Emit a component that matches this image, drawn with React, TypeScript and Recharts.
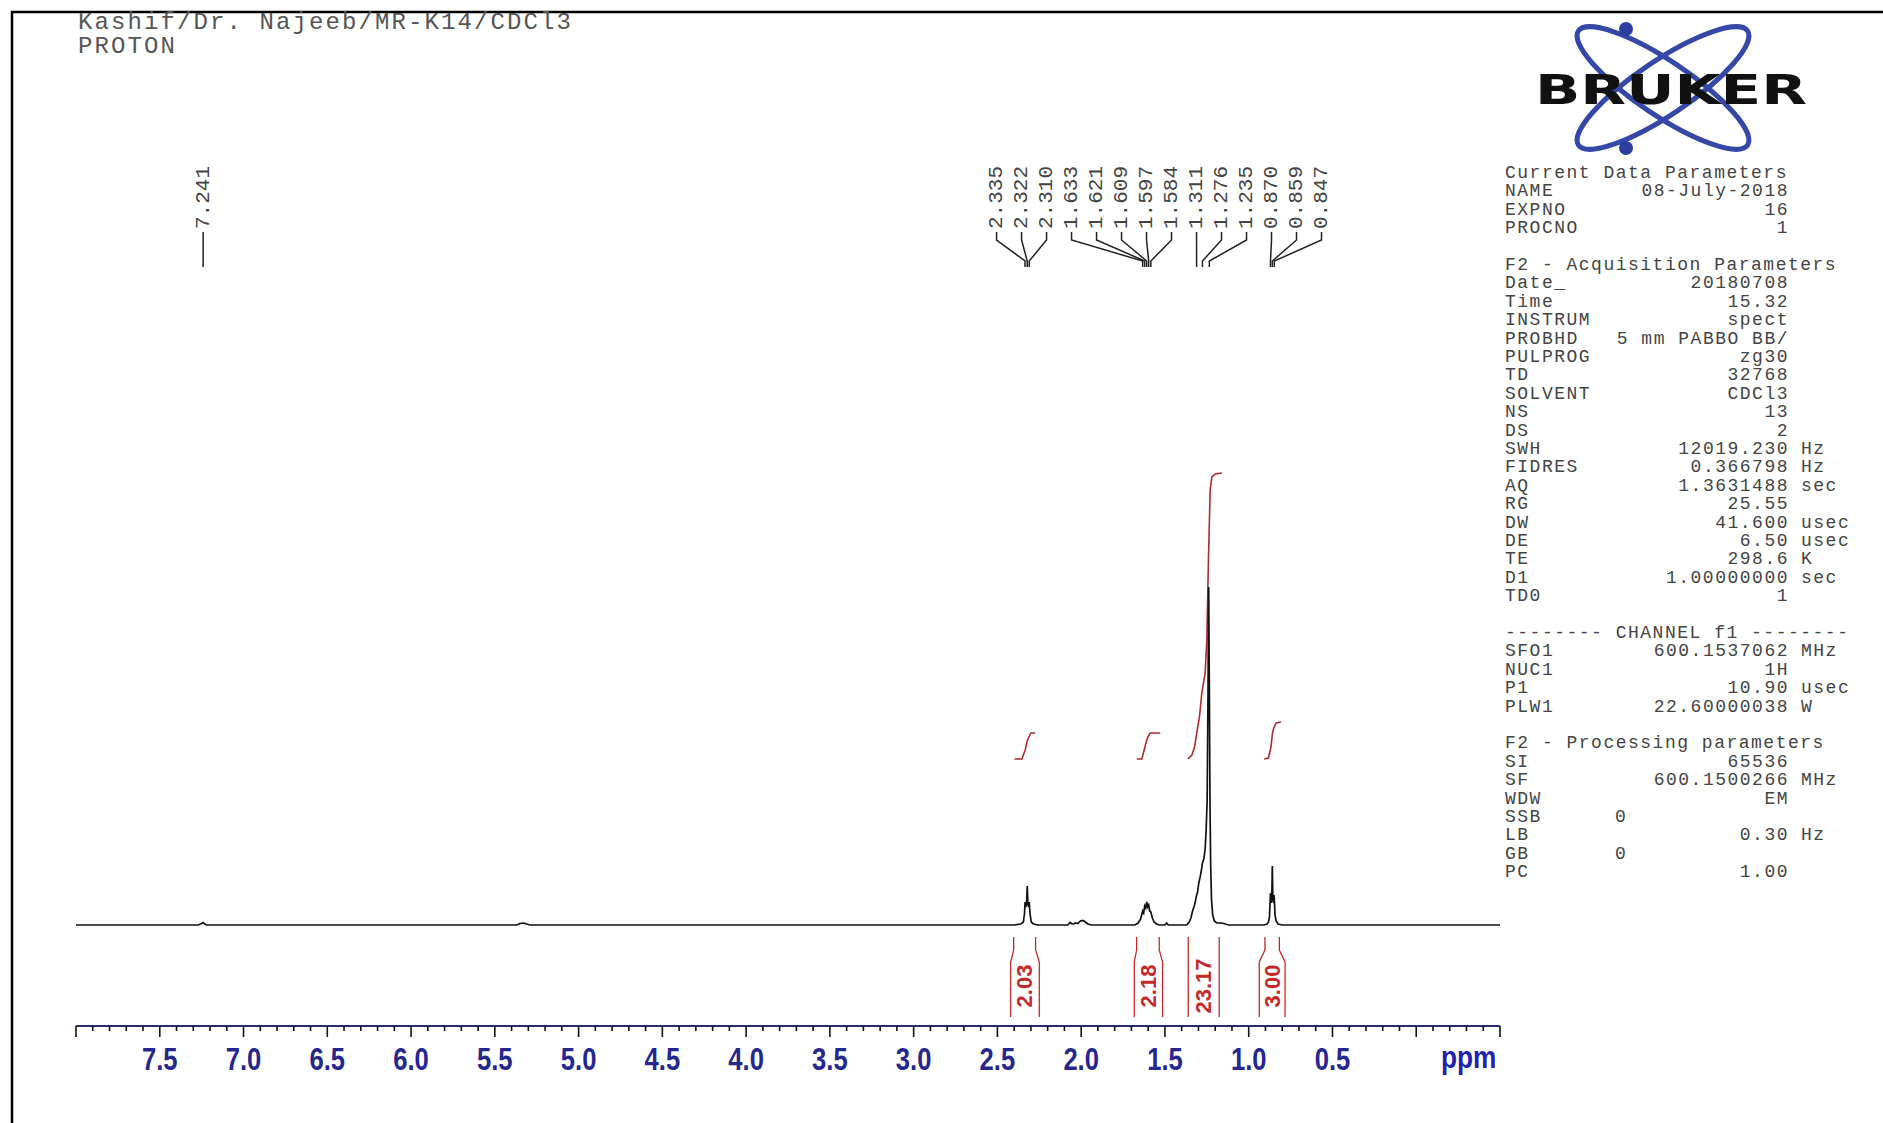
import React from "react";
import { ComposedChart, Line, Scatter, XAxis, YAxis } from "recharts";

const W = 1883;
const H = 1123;

// ── spectrum (ppm, intensity above baseline) ──────────────────────────────
const SPECTRUM: [number, number][] = [
    [8.0, 0], [7.27, 0], [7.25, 1.5], [7.241, 2.5], [7.232, 1], [7.22, 0],
    [5.37, 0], [5.35, 1.5], [5.33, 2], [5.31, 1], [5.29, 0],
    [2.4, 0], [2.36, 1], [2.345, 3], [2.338, 12], [2.335, 23], [2.331, 18], [2.326, 21], [2.322, 39],
    [2.318, 21], [2.314, 18], [2.31, 23], [2.305, 11], [2.298, 3], [2.285, 1], [2.26, 0],
    [2.08, 0], [2.066, 2.5], [2.055, 1], [2.045, 1], [2.035, 2], [2.02, 1.5], [2.005, 4], [1.99, 4.5],
    [1.975, 3], [1.96, 1], [1.94, 0],
    [1.68, 0], [1.66, 2], [1.645, 6], [1.633, 14], [1.627, 12], [1.621, 19], [1.615, 17], [1.609, 23],
    [1.603, 18], [1.597, 20], [1.591, 14], [1.584, 13], [1.575, 7], [1.565, 3], [1.55, 1], [1.535, 0],
    [1.5, 0], [1.49, 2], [1.48, 0],
    [1.37, 0], [1.355, 3], [1.345, 7], [1.335, 14], [1.325, 19], [1.318, 24], [1.311, 30], [1.305, 33],
    [1.298, 42], [1.29, 48], [1.282, 55], [1.276, 62], [1.268, 66], [1.26, 76], [1.254, 95], [1.248, 125],
    [1.243, 230], [1.239, 338], [1.235, 240], [1.231, 120], [1.227, 60], [1.222, 25], [1.215, 10],
    [1.205, 4], [1.19, 2], [1.16, 2], [1.14, 1], [1.12, 0],
    [0.91, 0], [0.89, 1], [0.882, 3], [0.876, 8], [0.872, 24], [0.87, 32], [0.866, 22], [0.862, 28],
    [0.859, 59], [0.856, 28], [0.852, 22], [0.849, 30], [0.847, 26], [0.843, 10], [0.836, 4], [0.825, 1],
    [0.8, 0], [-0.5, 0],
];

// ── integrals ─────────────────────────────────────────────────────────────
const INT_1: [number, number][] = [[2.398, 166], [2.354, 166], [2.334, 175], [2.324, 183], [2.315, 187], [2.3, 192], [2.275, 192]];
const INT_2: [number, number][] = [[1.668, 166], [1.638, 166], [1.624, 175], [1.612, 183], [1.602, 188], [1.588, 192], [1.528, 192]];
const INT_3: [number, number][] = [
    [1.363, 166], [1.339, 170], [1.323, 178], [1.31, 192], [1.294, 208], [1.28, 232], [1.26, 252],
    [1.25, 285], [1.24, 368], [1.23, 435], [1.22, 448], [1.2, 451], [1.16, 452],
];
const INT_4: [number, number][] = [[0.907, 166], [0.882, 167], [0.867, 178], [0.858, 192], [0.848, 198], [0.836, 202], [0.808, 203]];
const INTEGRAL_CURVES = [INT_1, INT_2, INT_3, INT_4];

const INTEGRAL_VALUES = ["2.03", "2.18", "23.17", "3.00"];
const INTEGRAL_LABEL_PPM = [2.336, 1.598, 1.271, 0.86];
// bracket edges: [left, right] at the curve, [left, right] around the label
const BRACKET_TOP: [number, number][] = [[2.403, 2.272], [1.669, 1.534], [1.361, 1.176], [0.903, 0.817]];
const BRACKET_LOW: [number, number][] = [[2.421, 2.25], [1.683, 1.514], [1.361, 1.176], [0.937, 0.783]];

// ── peak picking ──────────────────────────────────────────────────────────
const PEAKS = ["2.335", "2.322", "2.310", "1.633", "1.621", "1.609", "1.597", "1.584", "1.311", "1.276", "1.235", "0.870", "0.859", "0.847"];
const SOLVENT_PEAK = "7.241";
const LABEL_FIRST_PPM = 2.505;
const LABEL_STEP_PPM = 0.1492;

// ── axis ──────────────────────────────────────────────────────────────────
const TICKS: number[] = [];
for (let k = 80; k >= -5; k--) TICKS.push(k / 10);

// ── parameter table ───────────────────────────────────────────────────────
type Row = string | [string, string, string?, boolean?] | null;
const TABLE: Row[] = [
    "Current Data Parameters",
    ["NAME", "08-July-2018"],
    ["EXPNO", "16"],
    ["PROCNO", "1"],
    null,
    "F2 - Acquisition Parameters",
    ["Date_", "20180708"],
    ["Time", "15.32"],
    ["INSTRUM", "spect"],
    ["PROBHD", "5 mm PABBO BB/"],
    ["PULPROG", "zg30"],
    ["TD", "32768"],
    ["SOLVENT", "CDCl3"],
    ["NS", "13"],
    ["DS", "2"],
    ["SWH", "12019.230", "Hz"],
    ["FIDRES", "0.366798", "Hz"],
    ["AQ", "1.3631488", "sec"],
    ["RG", "25.55"],
    ["DW", "41.600", "usec"],
    ["DE", "6.50", "usec"],
    ["TE", "298.6", "K"],
    ["D1", "1.00000000", "sec"],
    ["TD0", "1"],
    null,
    "-------- CHANNEL f1 --------",
    ["SFO1", "600.1537062", "MHz"],
    ["NUC1", "1H"],
    ["P1", "10.90", "usec"],
    ["PLW1", "22.60000038", "W"],
    null,
    "F2 - Processing parameters",
    ["SI", "65536"],
    ["SF", "600.1500266", "MHz"],
    ["WDW", "EM"],
    ["SSB", "0", "", true],
    ["LB", "0.30", "Hz"],
    ["GB", "0", "", true],
    ["PC", "1.00"],
];

const MONO = "'Liberation Mono', 'DejaVu Sans Mono', monospace";
const SANS = "'Liberation Sans', Arial, sans-serif";
const RED = "#c42a2a";

// y levels of the peak-label fans (same units as intensity)
const LBL_BASE = 696;
const STUB_TOP = 693;
const STUB_BOT = 685;
const FAN_BOT = 664;
const TIP_BOT = 658;

function PpmTick({ x, y, payload }: any) {
    const v = payload.value as number;
    const major = Math.abs(v * 2 - Math.round(v * 2)) < 1e-6;
    const show = major && v > 0.25 && v < 7.75;
    return (
        <g>
            <line x1={x} x2={x} y1={y} y2={y + (major ? 11 : 5)} stroke="#111" strokeWidth={1.6} />
            {show && (
                <text transform={`translate(${x} ${y + 44}) scale(0.8 1)`} textAnchor="middle" fontFamily={SANS}
                    fontWeight="bold" fontSize={32} fill="#26268f">
                    {v.toFixed(1)}
                </text>
            )}
        </g>
    );
}

function RotLabel({ cx, cy, payload }: any) {
    return (
        <text x={cx} y={cy} transform={`rotate(-90 ${cx} ${cy})`} dominantBaseline="central" fontFamily={MONO}
            fontSize={21} fill="#444">
            {payload.text}
        </text>
    );
}

function IntLabel({ cx, cy, payload }: any) {
    return (
        <text x={cx} y={cy} transform={`rotate(-90 ${cx} ${cy})`} textAnchor="middle" dominantBaseline="central"
            fontFamily={SANS} fontWeight="bold" fontSize={22} fill={RED}>
            {payload.text}
        </text>
    );
}

function Overlay() {
    const rowY = (i: number) => 172 + i * 18.4 + 6;
    return (
        <svg width={W} height={H} style={{ position: "absolute", left: 0, top: 0, pointerEvents: "none" }}>
            {/* frame */}
            <line x1={11} y1={12} x2={W} y2={12} stroke="#000" strokeWidth={2.5} />
            <line x1={12} y1={11} x2={12} y2={H} stroke="#000" strokeWidth={2.5} />

            {/* title */}
            <text x={78} y={29} fontFamily={MONO} fontSize={24} letterSpacing={2.1} fill="#555">
                Kashif/Dr. Najeeb/MR-K14/CDCl3
            </text>
            <text x={78} y={53} fontFamily={MONO} fontSize={24} letterSpacing={2.1} fill="#555">
                PROTON
            </text>

            {/* logo */}
            <g fill="none" stroke="#3548a8" strokeWidth={5}>
                <ellipse cx={1663} cy={88} rx={102} ry={27} transform="rotate(34 1663 88)" />
                <ellipse cx={1663} cy={88} rx={102} ry={27} transform="rotate(-34 1663 88)" />
            </g>
            <circle cx={1626} cy={29} r={7} fill="#2c3fa0" />
            <circle cx={1626} cy={148} r={7} fill="#2c3fa0" />
            <text x={1535} y={104} fontFamily="'DejaVu Sans', sans-serif" fontWeight="900" fontSize={41}
                textLength={272} lengthAdjust="spacingAndGlyphs" fill="#111">
                BRUKER
            </text>

            {/* parameters */}
            <g fontFamily={MONO} fontSize={18} letterSpacing={1.5} fill="#444">
                {TABLE.map((r, i) => {
                    if (r === null) return null;
                    if (typeof r === "string")
                        return <text key={i} x={1505} y={rowY(i)}>{r}</text>;
                    const [k, v, u, mid] = r;
                    return (
                        <g key={i}>
                            <text x={1505} y={rowY(i)}>{k}</text>
                            {mid ? (
                                <text x={1615} y={rowY(i)}>{v}</text>
                            ) : (
                                <text x={1789} y={rowY(i)} textAnchor="end">{v}</text>
                            )}
                            {u && <text x={1801} y={rowY(i)}>{u}</text>}
                        </g>
                    );
                })}
            </g>

            {/* axis unit */}
            <text transform="translate(1441 1068) scale(0.82 1)" fontFamily={SANS} fontWeight="bold" fontSize={32}
                fill="#2222b0">
                ppm
            </text>
        </svg>
    );
}

export default function App() {
    const spectrum = SPECTRUM.map(([ppm, y]) => ({ ppm, y }));

    const labels = PEAKS.map((t, i) => ({ ppm: LABEL_FIRST_PPM - i * LABEL_STEP_PPM, y: LBL_BASE, text: t }));
    labels.push({ ppm: parseFloat(SOLVENT_PEAK), y: LBL_BASE, text: SOLVENT_PEAK });

    const fans = PEAKS.map((t, i) => {
        const lp = LABEL_FIRST_PPM - i * LABEL_STEP_PPM;
        const pp = parseFloat(t);
        return [
            { ppm: lp, y: STUB_TOP },
            { ppm: lp, y: STUB_BOT },
            { ppm: pp, y: FAN_BOT },
            { ppm: pp, y: TIP_BOT },
        ];
    });
    fans.push([
        { ppm: parseFloat(SOLVENT_PEAK), y: STUB_TOP },
        { ppm: parseFloat(SOLVENT_PEAK), y: TIP_BOT },
    ]);

    const brackets: { ppm: number; y: number }[][] = [];
    BRACKET_TOP.forEach((top, i) => {
        const low = BRACKET_LOW[i];
        [0, 1].forEach((s) => {
            brackets.push([
                { ppm: top[s], y: -12 },
                { ppm: top[s], y: -25 },
                { ppm: low[s], y: -37 },
                { ppm: low[s], y: -92 },
            ]);
        });
    });

    const intLabels = INTEGRAL_VALUES.map((t, i) => ({ ppm: INTEGRAL_LABEL_PPM[i], y: -61, text: t }));

    return (
        <div style={{ position: "absolute", left: 0, top: 0, width: W, height: H, background: "#fff" }}>
            <ComposedChart width={W} height={H} margin={{ top: 26, right: 383, bottom: 37, left: 76 }}>
                <XAxis
                    type="number"
                    dataKey="ppm"
                    domain={[-0.5, 8]}
                    reversed
                    allowDataOverflow
                    ticks={TICKS}
                    interval={0}
                    tick={<PpmTick />}
                    tickLine={false}
                    tickSize={0}
                    tickMargin={0}
                    axisLine={{ stroke: "#2b2b66", strokeWidth: 2 }}
                    height={60}
                />
                <YAxis type="number" hide domain={[-101, 899]} allowDataOverflow />

                {INTEGRAL_CURVES.map((c, i) => (
                    <Line key={"int" + i} data={c.map(([ppm, y]) => ({ ppm, y }))} dataKey="y" stroke="#b02a2a"
                        strokeWidth={1.6} dot={false} activeDot={false} isAnimationActive={false} />
                ))}
                {brackets.map((b, i) => (
                    <Line key={"br" + i} data={b} dataKey="y" stroke={RED} strokeWidth={1.3} dot={false}
                        activeDot={false} isAnimationActive={false} />
                ))}
                {fans.map((f, i) => (
                    <Line key={"fan" + i} data={f} dataKey="y" stroke="#222" strokeWidth={1.5} dot={false}
                        activeDot={false} isAnimationActive={false} />
                ))}

                <Line data={spectrum} dataKey="y" stroke="#111" strokeWidth={1.7} dot={false} activeDot={false}
                    isAnimationActive={false} />

                <Scatter data={labels} dataKey="y" shape={<RotLabel />} isAnimationActive={false} />
                <Scatter data={intLabels} dataKey="y" shape={<IntLabel />} isAnimationActive={false} />
            </ComposedChart>
            <Overlay />
        </div>
    );
}
